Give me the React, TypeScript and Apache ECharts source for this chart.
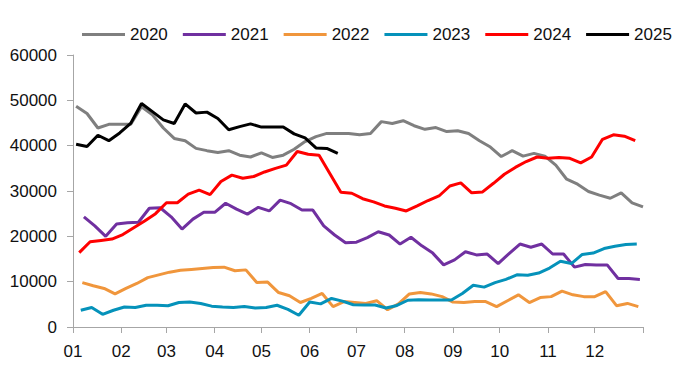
import React, { useEffect, useRef } from "react";
import * as echarts from "echarts";

// Month ticks (day-of-year offsets of each month start) and their labels
const monthStarts = [0, 31, 60, 91, 121, 152, 182, 213, 244, 274, 305, 335, 366];
const monthLabels = ["01", "02", "03", "04", "05", "06", "07", "08", "09", "10", "11", "12"];

// Series names and first weekly observation (Fridays)
const seriesNames = ["2020", "2021", "2022", "2023", "2024", "2025"];
const firstDates = ["2020-01-03", "2021-01-08", "2022-01-07", "2023-01-06", "2024-01-05", "2025-01-03"];

// Weekly values
const values2020 = [48700, 47100, 43900, 44700, 44700, 44700, 48600, 46800, 43900, 41600, 41100, 39400, 38900, 38500, 38900, 37900, 37500, 38400, 37400, 37900, 39200, 40900, 42000, 42700, 42700, 42700, 42400, 42700, 45300, 44900, 45500, 44400, 43600, 44000, 43100, 43300, 42700, 41100, 39700, 37600, 38900, 37700, 38300, 37700, 35700, 32600, 31500, 29900, 29100, 28400, 29600, 27400, 26500];
const values2021 = [24300, 22300, 20000, 22700, 23000, 23100, 26200, 26300, 24300, 21600, 23800, 25300, 25300, 27300, 26000, 24900, 26400, 25600, 28000, 27200, 25800, 25800, 22300, 20300, 18600, 18700, 19700, 21000, 20300, 18300, 19800, 17900, 16300, 13700, 14800, 16600, 15900, 16100, 14000, 16200, 18300, 17600, 18300, 16100, 16100, 13200, 13800, 13700, 13700, 10700, 10700, 10500];
const values2022 = [9800, 9100, 8500, 7300, 8500, 9600, 10900, 11500, 12100, 12500, 12700, 12900, 13100, 13200, 12400, 12600, 9800, 9900, 7600, 6900, 5400, 6300, 7400, 4500, 5600, 5400, 5200, 5800, 3800, 5100, 7300, 7600, 7300, 6700, 5500, 5400, 5600, 5600, 4500, 5800, 7100, 5400, 6500, 6700, 7900, 7100, 6700, 6700, 7800, 4700, 5200, 4500];
const values2023 = [3700, 4300, 2800, 3700, 4400, 4300, 4800, 4800, 4700, 5400, 5500, 5200, 4600, 4400, 4300, 4500, 4200, 4300, 4800, 3900, 2600, 5500, 5100, 6300, 5700, 4900, 4850, 4850, 4200, 4750, 5900, 6000, 5950, 5950, 5950, 7400, 9200, 8800, 9800, 10500, 11500, 11400, 11900, 13000, 14500, 14000, 16000, 16300, 17300, 17800, 18200, 18300];
const values2024 = [16400, 18800, 19100, 19400, 20400, 21900, 23400, 25000, 27400, 27400, 29300, 30200, 29200, 32100, 33500, 32800, 33200, 34200, 35000, 35700, 38700, 38100, 37900, 33800, 29700, 29500, 28300, 27600, 26700, 26200, 25600, 26700, 27900, 28900, 31100, 31800, 29600, 29800, 31700, 33700, 35200, 36500, 37500, 37200, 37400, 37200, 36200, 37500, 41400, 42400, 42100, 41100];
const values2025 = [40300, 39800, 42300, 41100, 42800, 44900, 49300, 47500, 45700, 44900, 49200, 47200, 47400, 46000, 43500, 44200, 44800, 44100, 44100, 44100, 42600, 41700, 39500, 39400, 38300];

const allValues = [values2020, values2021, values2022, values2023, values2024, values2025];
const colors = ["#7F7F7F", "#7030A0", "#F0963C", "#0592BA", "#FF0000", "#000000"];

const FONT = "Liberation Sans, Arial, sans-serif";

function dayOfYear(s: string): number {
  const d = new Date(s + "T00:00:00Z");
  const y = d.getUTCFullYear();
  return Math.round((d.getTime() - Date.UTC(y, 0, 1)) / 86400000);
}

export default function App() {
  const ref = useRef<HTMLDivElement>(null);
  useEffect(() => {
    if (!ref.current) return;
    const chart = echarts.init(ref.current, undefined, { renderer: "svg" });
    const series = seriesNames.map((name, si) => {
      const start = dayOfYear(firstDates[si]);
      return {
        name,
        type: "line",
        data: allValues[si].map((v, i) => [start + 7 * i, v]),
        showSymbol: false,
        symbol: "none",
        lineStyle: { width: 3, color: colors[si] },
        itemStyle: { color: colors[si] },
      };
    });
    chart.setOption({
      animation: false,
      backgroundColor: "#fff",
      legend: {
        data: seriesNames,
        icon: "rect",
        left: 82,
        top: 26,
        width: 640,
        padding: 0,
        itemWidth: 43,
        itemHeight: 3,
        itemGap: 15,
        textStyle: { fontSize: 17, color: "#111", fontFamily: FONT },
      },
      grid: { left: 73, right: 32, top: 55, bottom: 47 },
      xAxis: {
        type: "value",
        min: 0,
        max: 366,
        axisLine: { show: true, onZero: true, lineStyle: { color: "#A6A6A6", width: 1 } },
        axisTick: { show: true, length: 6, customValues: monthStarts, lineStyle: { color: "#A6A6A6" } },
        axisLabel: {
          customValues: monthStarts.slice(0, 12),
          formatter: (v: number) => {
            const idx = monthStarts.indexOf(v);
            return idx >= 0 && idx < monthLabels.length ? monthLabels[idx] : "";
          },
          margin: 16,
          fontSize: 17,
          color: "#111",
          fontFamily: FONT,
        },
        splitLine: { show: false },
      },
      yAxis: {
        type: "value",
        min: 0,
        max: 60000,
        interval: 10000,
        axisLine: { show: true, lineStyle: { color: "#A6A6A6", width: 1 } },
        axisTick: { show: true, length: 6, lineStyle: { color: "#A6A6A6" } },
        axisLabel: {
          margin: 16,
          fontSize: 17,
          color: "#111",
          fontFamily: FONT,
          formatter: (v: number) => String(v),
        },
        splitLine: { show: false },
      },
      series,
    });
    return () => chart.dispose();
  }, []);
  return (
    <div
      ref={ref}
      style={{ position: "fixed", left: 0, top: 0, width: 675, height: 374, background: "#fff" }}
    />
  );
}
